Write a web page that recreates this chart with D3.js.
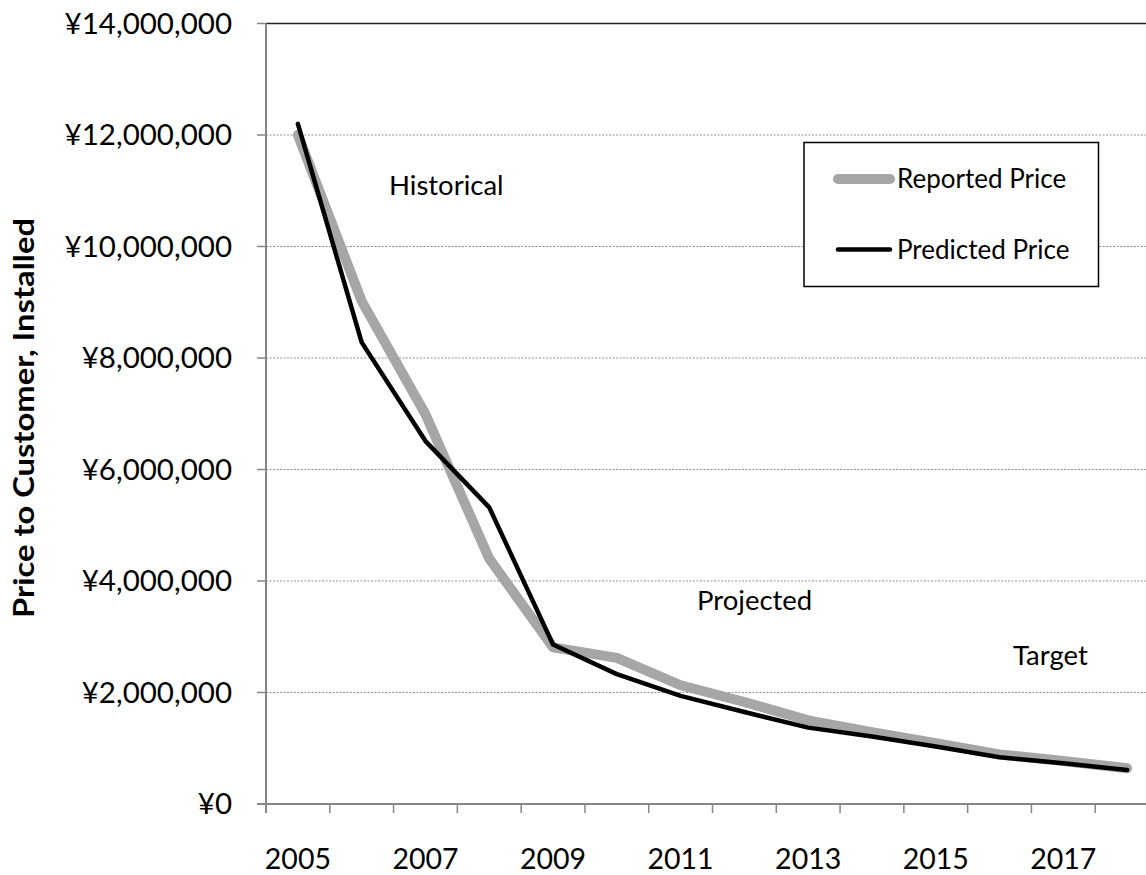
<!DOCTYPE html>
<html>
<head>
<meta charset="utf-8">
<script src="https://cdn.jsdelivr.net/npm/d3@7/dist/d3.min.js"></script>
<style>
  html, body { margin: 0; padding: 0; background: #fff; }
  svg { display: block; font-family: Lato, "Open Sans", sans-serif; }
</style>
</head>
<body>
<svg id="chart" width="1146" height="875"></svg>
<script>
// Installed price per system, 2005-2018 (yen)
const years = ["2005","2006","2007","2008","2009","2010","2011","2012","2013","2014","2015","2016","2017","2018"];
const reportedPrice  = [12000000, 9020000, 6990000, 4400000, 2810000, 2620000, 2130000, 1830000, 1500000, 1290000, 1090000, 890000, 770000, 640000];
const predictedPrice = [12200000, 8280000, 6510000, 5320000, 2860000, 2330000, 1940000, 1650000, 1370000, 1210000, 1030000, 840000, 730000, 610000];
const yTicks = [0, 2000000, 4000000, 6000000, 8000000, 10000000, 12000000, 14000000];
const xLabelYears = ["2005","2007","2009","2011","2013","2015","2017"];
const seriesNames = ["Reported Price", "Predicted Price"];
const phaseLabels = ["Historical", "Projected", "Target"];

const svg = d3.select("#chart");

// Plot frame; the category axis runs past the right edge of the page
const plot = { left: 266, top: 23.5, bottom: 804, right: 1159 };

const x = d3.scaleBand().domain(years).range([plot.left, plot.right]).padding(0);
const y = d3.scaleLinear().domain([0, 14000000]).range([plot.bottom, plot.top]);
const xc = d => x(d) + x.bandwidth() / 2;

const axisGray = "#868686";
const fmt = v => "¥" + d3.format(",")(v);

// dotted horizontal gridlines
svg.append("g").selectAll("line")
  .data(yTicks.filter(v => v > 0 && v < 14000000))
  .join("line")
  .attr("x1", plot.left).attr("x2", 1146)
  .attr("y1", d => y(d)).attr("y2", d => y(d))
  .attr("stroke", "#8f8f8f").attr("stroke-width", 1)
  .attr("stroke-dasharray", "2,1.5");

// top border of the plot area
svg.append("line")
  .attr("x1", plot.left).attr("x2", 1146)
  .attr("y1", y(14000000)).attr("y2", y(14000000))
  .attr("stroke", "#222").attr("stroke-width", 1.6);

// y axis
const yAxis = svg.append("g").attr("transform", `translate(${plot.left},0)`);
yAxis.append("line")
  .attr("x1", 0).attr("x2", 0).attr("y1", y(14000000)).attr("y2", plot.bottom + 9)
  .attr("stroke", axisGray).attr("stroke-width", 2);
yAxis.selectAll("line.tick").data(yTicks).join("line").attr("class", "tick")
  .attr("x1", -9).attr("x2", 0).attr("y1", d => y(d)).attr("y2", d => y(d))
  .attr("stroke", axisGray).attr("stroke-width", 1.5);
yAxis.selectAll("text").data(yTicks).join("text")
  .attr("x", -34).attr("y", d => y(d)).attr("dy", "0.35em")
  .attr("text-anchor", "end").attr("font-size", 29.5).attr("fill", "#000")
  .text(fmt);

// x axis with ticks on category boundaries
const xAxis = svg.append("g").attr("transform", `translate(0,${plot.bottom})`);
xAxis.append("line")
  .attr("x1", plot.left - 9).attr("x2", 1146).attr("y1", 0).attr("y2", 0)
  .attr("stroke", axisGray).attr("stroke-width", 2);
xAxis.selectAll("line.tick").data(years).join("line").attr("class", "tick")
  .attr("x1", d => x(d)).attr("x2", d => x(d)).attr("y1", 0).attr("y2", 9)
  .attr("stroke", axisGray).attr("stroke-width", 1.5);
xAxis.selectAll("text").data(xLabelYears).join("text")
  .attr("x", d => xc(d)).attr("y", 65)
  .attr("text-anchor", "middle").attr("font-size", 28.5).attr("fill", "#000")
  .text(d => d);

// y axis title
svg.append("text")
  .attr("transform", `translate(34,418) rotate(-90)`)
  .attr("text-anchor", "middle").attr("font-size", 28).attr("font-weight", "bold")
  .attr("textLength", 400).attr("lengthAdjust", "spacingAndGlyphs")
  .attr("fill", "#000")
  .text("Price to Customer, Installed");

// series lines
const line = d3.line().x((d, i) => xc(years[i])).y(d => y(d));
svg.append("path").datum(reportedPrice)
  .attr("d", line).attr("fill", "none")
  .attr("stroke", "#a6a6a6").attr("stroke-width", 10)
  .attr("stroke-linejoin", "round").attr("stroke-linecap", "round");
svg.append("path").datum(predictedPrice)
  .attr("d", line).attr("fill", "none")
  .attr("stroke", "#000").attr("stroke-width", 4.5)
  .attr("stroke-linejoin", "round").attr("stroke-linecap", "round");

// phase annotations
const notes = [
  { text: phaseLabels[0], x: 389, y: 195 },
  { text: phaseLabels[1], x: 697, y: 610 },
  { text: phaseLabels[2], x: 1013, y: 665 }
];
svg.append("g").selectAll("text").data(notes).join("text")
  .attr("x", d => d.x).attr("y", d => d.y)
  .attr("font-size", 27.5).attr("fill", "#000")
  .text(d => d.text);

// legend
const legend = svg.append("g");
legend.append("rect")
  .attr("x", 804).attr("y", 142.5).attr("width", 294.5).attr("height", 144)
  .attr("fill", "#fff").attr("stroke", "#000").attr("stroke-width", 1.5);
const legendRows = [
  { name: seriesNames[0], color: "#a6a6a6", width: 10, y: 179 },
  { name: seriesNames[1], color: "#000", width: 4.5, y: 249.5 }
];
legendRows.forEach(r => {
  legend.append("line")
    .attr("x1", 838).attr("x2", 890).attr("y1", r.y).attr("y2", r.y)
    .attr("stroke", r.color).attr("stroke-width", r.width).attr("stroke-linecap", "round");
  legend.append("text")
    .attr("x", 897).attr("y", r.y).attr("dy", "0.35em")
    .attr("font-size", 26).attr("fill", "#000")
    .text(r.name);
});
</script>
</body>
</html>
